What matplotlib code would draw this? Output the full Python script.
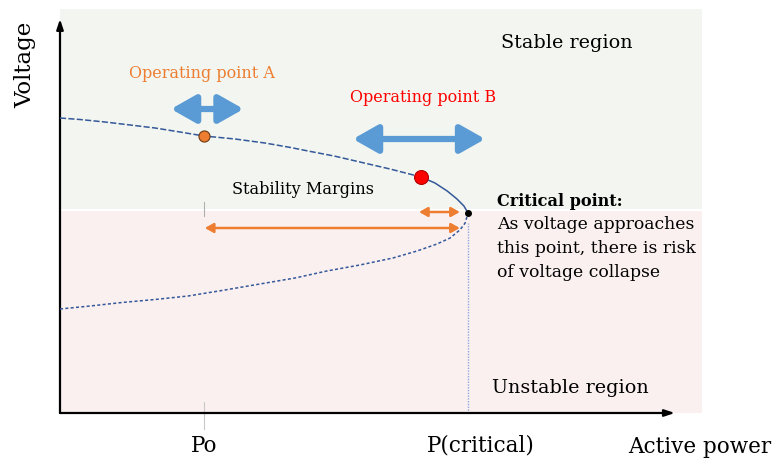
import matplotlib
matplotlib.use("Agg")
import matplotlib.pyplot as plt
from matplotlib.patches import FancyArrowPatch

# P-V nose curve (P normalised so that P(critical) = 1)
upper_p = [0.0, 0.049, 0.110, 0.172, 0.233, 0.294, 0.353, 0.429, 0.502, 0.564,
           0.613, 0.674, 0.735, 0.809, 0.885, 0.919, 0.949, 0.973, 0.990, 1.0]
upper_v = [1.475, 1.4675, 1.455, 1.44, 1.425, 1.405, 1.385, 1.37, 1.35, 1.328,
           1.308, 1.284, 1.255, 1.22, 1.18, 1.15, 1.11, 1.07, 1.035, 1.0]
lower_p = [0.0, 0.074, 0.152, 0.233, 0.314, 0.404, 0.490, 0.576, 0.654, 0.735,
           0.816, 0.875, 0.924, 0.956, 0.980, 0.993, 1.0]
lower_v = [0.52, 0.535, 0.5525, 0.5675, 0.585, 0.615, 0.645, 0.675, 0.71, 0.74,
           0.775, 0.81, 0.845, 0.875, 0.915, 0.95, 1.0]

# operating points (P, V)
point_a = (0.353, 1.385)
point_b = (0.885, 1.180)
critical = (1.0, 1.0)

tick_p = [0.353, 1.0]
tick_labels = ["Po", "P(critical)"]

critical_lines = ["As voltage approaches", "this point, there is risk", "of voltage collapse"]

serif = ["DejaVu Serif"]
blue_line = "#34589a"
orange = "#ed7d31"
arrow_blue = "#5b9bd5"

fig = plt.figure(figsize=(7.78, 4.64), dpi=100)
ax = fig.add_axes([60 / 778, 50 / 464, 642 / 778, 404 / 464])
ax.set_xlim(0, 642 / 408)
ax.set_ylim(0, 404 / 200)
ax.axis("off")

# stable / unstable background bands
ax.axhspan(1.02, 2.02, color="#f3f6f0", lw=0, zorder=0)
ax.axhspan(0.0, 1.01, color="#fbf0f0", lw=0, zorder=0)

# axes with arrows
ax.annotate("", xy=(1.507, 0), xytext=(0, 0), annotation_clip=False,
            arrowprops=dict(arrowstyle="-|>,head_length=0.6,head_width=0.2", lw=1.6, color="black",
                            shrinkA=0, shrinkB=0))
ax.annotate("", xy=(0, 1.97), xytext=(0, 0), annotation_clip=False,
            arrowprops=dict(arrowstyle="-|>,head_length=0.6,head_width=0.2", lw=1.6, color="black",
                            shrinkA=0, shrinkB=0))

# nose curve: dashed up to point B, solid to the nose, dotted lower branch
k = upper_p.index(point_b[0])
ax.plot(upper_p[:k + 1], upper_v[:k + 1], color=blue_line, lw=1.1, ls=(0, (4, 1.5)), zorder=3)
ax.plot(upper_p[k:], upper_v[k:], color=blue_line, lw=1.1, zorder=3)
ax.plot(lower_p, lower_v, color=blue_line, lw=1.1, ls=(0, (2, 1.5)), zorder=3)

# P(critical) guide and Po ticks
ax.plot([critical[0], critical[0]], [0, 0.95], color="#8fa8dc", lw=1, ls=(0, (1, 1)), zorder=2)
ax.plot([tick_p[0], tick_p[0]], [0.985, 1.055], color="#b0b0b0", lw=0.8, zorder=2)
ax.plot([tick_p[0], tick_p[0]], [-0.08, 0.055], color="#c8c8c8", lw=0.8, zorder=2, clip_on=False)

# points
ax.plot(*point_a, "o", ms=8, color=orange, mec="#6b3a14", mew=0.8, zorder=5)
ax.plot(*point_b, "o", ms=10, color="#ff0000", mec="#b00000", mew=0.8, zorder=5)
ax.plot(*critical, "o", ms=4, color="black", zorder=5)


def double_arrow(x0, x1, y, color, lw, hl, hw):
    a = FancyArrowPatch((x0, y), (x1, y), arrowstyle=f"<|-|>,head_length={hl},head_width={hw}",
                        mutation_scale=1, lw=lw, color=color, shrinkA=0, shrinkB=0, zorder=4)
    ax.add_patch(a)


# blue movement arrows
double_arrow(0.272, 0.450, 1.52, arrow_blue, 4.5, 15, 8.5)
double_arrow(0.718, 1.042, 1.37, arrow_blue, 4.5, 15, 8.5)
# orange margin arrows
double_arrow(0.880, 0.980, 1.005, orange, 1.8, 5, 2.8)
double_arrow(0.355, 0.980, 0.925, orange, 1.8, 5, 2.8)

# texts
ax.text(1.243, 1.855, "Stable region", family=serif, fontsize=13.8, ha="center", va="center")
ax.text(1.250, 0.13, "Unstable region", family=serif, fontsize=13.8, ha="center", va="center")
ax.text(0.348, 1.705, "Operating point A", family=serif, fontsize=11.5, color=orange,
        ha="center", va="center")
ax.text(0.890, 1.585, "Operating point B", family=serif, fontsize=11.5, color="#ff0000",
        ha="center", va="center")
ax.text(0.596, 1.12, "Stability Margins", family=serif, fontsize=11.6, ha="center", va="center")
ax.text(1.071, 1.06, "Critical point:", family=serif, fontsize=11.6, fontweight="bold",
        ha="left", va="center")
for i, line in enumerate(critical_lines):
    ax.text(1.071, 0.945 - i * 0.118, line, family=serif, fontsize=12.4, ha="left", va="center")

for p, lab in zip(tick_p, tick_labels):
    ax.text(p + (0.032 if p == 1.0 else 0), -0.16, lab, family=serif, fontsize=15.5,
            ha="center", va="center", clip_on=False)
ax.text(1.569, -0.165, "Active power", family=serif, fontsize=15.5, ha="center", va="center",
        clip_on=False)
ax.text(-0.084, 1.745, "Voltage", family=serif, fontsize=16.5, rotation=90, ha="center",
        va="center", clip_on=False)

fig.savefig("out.png", dpi=100)
